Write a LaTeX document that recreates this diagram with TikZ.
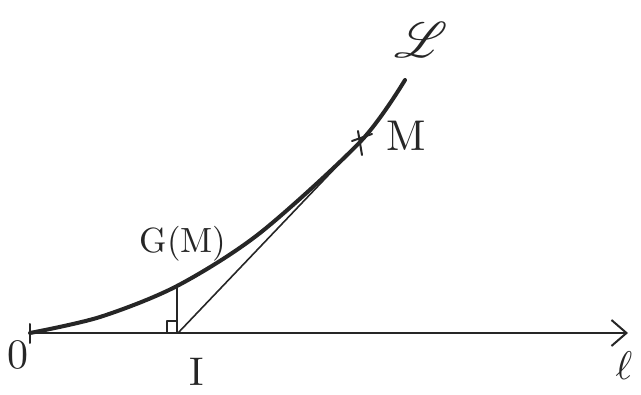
\documentclass[tikz,border=0pt]{standalone}
\usepackage{mathrsfs}
\usetikzlibrary{arrows.meta}
\begin{document}
\begin{tikzpicture}[x=1pt,y=-1pt,
  lbl/.style={inner sep=0pt, text=black!85},
  ink/.style={draw=black!85, line cap=round, line join=round}]
\useasboundingbox (0,0) rectangle (641,395);
% axis
\coordinate (O) at (30,333);
\coordinate (E) at (628,333);
\coordinate (I) at (178,333);
\coordinate (M) at (361,141);
\coordinate (F) at (177,286);
\draw[ink, line width=2pt, -{Straight Barb[length=15,width=26,line width=2pt]}] (O) -- (E);
\draw[ink, line width=2pt] (30,324) -- (30,343);
% curve
\draw[ink, line width=4pt] plot[smooth, tension=0.5] coordinates
  {(30,333) (100,317) (177,286) (260,233) (361,141) (405,80)};
% tangent and perpendicular
\draw[ink, line width=1.6pt] (I) -- (M);
\draw[ink, line width=1.6pt] (F) -- (177,333);
\draw[ink, line width=1.6pt] (167,333) -- (167,321) -- (177,321);
% cross at M
\draw[ink, line width=2pt] (352,141) -- (372,134);
\draw[ink, line width=2pt] (358,131) -- (362,155);
% labels
\node[lbl, scale=4.2] (lO) at (18,355) {0};
\node[lbl, scale=4.0] (lI) at (197,372) {I};
\node[lbl, scale=4.0] (ll) at (624,366) {$\ell$};
\node[lbl, scale=4.3] (lM) at (406,136) {M};
\node[lbl, scale=5.0] (lL) at (421,40) {$\mathscr{L}$};
\node[lbl, scale=3.5] (lG) at (183,244) {G(M)};
\end{tikzpicture}
\end{document}
